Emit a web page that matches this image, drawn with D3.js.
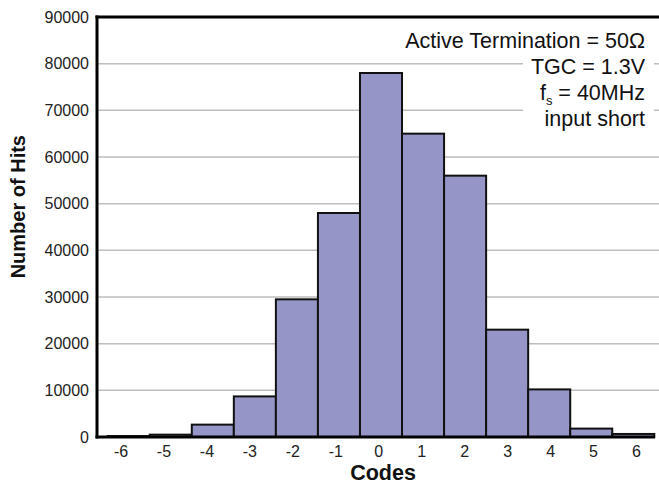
<!DOCTYPE html>
<html>
<head>
<meta charset="utf-8">
<script src="https://cdn.jsdelivr.net/npm/d3@7"></script>
<style>
html,body{margin:0;padding:0;background:#fff;}
svg{display:block;}
text{font-family:"Liberation Sans",Arial,Helvetica,sans-serif;}
</style>
</head>
<body>
<svg id="chart" width="659" height="484"></svg>
<script>
const codes = [-6,-5,-4,-3,-2,-1,0,1,2,3,4,5,6];
const hits = [200,500,2650,8700,29500,48000,78000,65000,56000,23000,10200,1800,650];
const yTicks = [0,10000,20000,30000,40000,50000,60000,70000,80000,90000];
const annotation = ["Active Termination = 50\u03A9","TGC = 1.3V","f_s = 40MHz","input short"];

const svg = d3.select("#chart");
const mLeft = 97, mTop = 17, mBottom = 437, mRight = 659;

const y = d3.scaleLinear().domain([0,90000]).range([mBottom, mTop]);
const xBar = d3.scaleBand().domain(codes).range([107.7, 654.3]).paddingInner(0).paddingOuter(0);
const xLab = d3.scalePoint().domain(codes).range([120.5, 636]);

// gridlines
svg.append("g").selectAll("line").data(yTicks.filter(d=>d>0 && d<90000)).join("line")
  .attr("x1", mLeft).attr("x2", mRight)
  .attr("y1", d=>y(d)).attr("y2", d=>y(d))
  .attr("stroke", "#bdbdbd").attr("stroke-width", 1.5);

// bars
svg.append("g").selectAll("rect").data(codes).join("rect")
  .attr("x", (d)=>xBar(d))
  .attr("width", xBar.bandwidth())
  .attr("y", (d,i)=>y(hits[i]))
  .attr("height", (d,i)=>mBottom - y(hits[i]))
  .attr("fill", "#9595c8")
  .attr("stroke", "#111")
  .attr("stroke-width", 2);

// axes frame
svg.append("line").attr("x1", mLeft).attr("x2", mLeft).attr("y1", mTop-1.5).attr("y2", mBottom+1.5)
  .attr("stroke","#000").attr("stroke-width",3);
svg.append("line").attr("x1", mLeft-1.5).attr("x2", mRight).attr("y1", mTop).attr("y2", mTop)
  .attr("stroke","#000").attr("stroke-width",3);
svg.append("line").attr("x1", mLeft-1.5).attr("x2", 655).attr("y1", mBottom).attr("y2", mBottom)
  .attr("stroke","#000").attr("stroke-width",3);

// y tick labels via axis
const yAxis = svg.append("g").attr("transform", `translate(${mLeft-8},0)`)
  .call(d3.axisLeft(y).tickValues(yTicks).tickSize(0).tickPadding(0).tickFormat(d3.format("d")));
yAxis.select(".domain").remove();
yAxis.selectAll("text").attr("font-size", 16).attr("fill", "#222")
  .attr("font-family", '"Liberation Sans",Arial,sans-serif');

// x tick labels via axis
const xAxis = svg.append("g").attr("transform", `translate(0,${mBottom+9})`)
  .call(d3.axisBottom(xLab).tickSize(0).tickPadding(0));
xAxis.select(".domain").remove();
xAxis.selectAll("text").attr("font-size", 16).attr("fill", "#222")
  .attr("font-family", '"Liberation Sans",Arial,sans-serif');

// axis titles
svg.append("text").attr("x", 383).attr("y", 480).attr("text-anchor","middle")
  .attr("font-size", 21.5).attr("font-weight","bold").attr("fill","#111").text("Codes");
svg.append("text").attr("transform","translate(25,206.7) rotate(-90)").attr("text-anchor","middle")
  .attr("font-size", 20).attr("font-weight","bold").attr("fill","#111").text("Number of Hits");

// annotation
svg.append("rect").attr("x", 523).attr("y", 53).attr("width", 131).attr("height", 80).attr("fill","#fff");
const ann = svg.append("g").attr("font-size", 21.5).attr("fill","#111").attr("text-anchor","end");
annotation.forEach((t,i)=>{
  const tx = ann.append("text").attr("x", 645).attr("y", 47.5 + i*26.2);
  if (t.startsWith("f_s")) {
    tx.append("tspan").text("f");
    tx.append("tspan").attr("font-size", 13).attr("dy", 5).text("s");
    tx.append("tspan").attr("dy", -5).text(t.slice(3));
  } else {
    tx.text(t);
  }
});
</script>
</body>
</html>
